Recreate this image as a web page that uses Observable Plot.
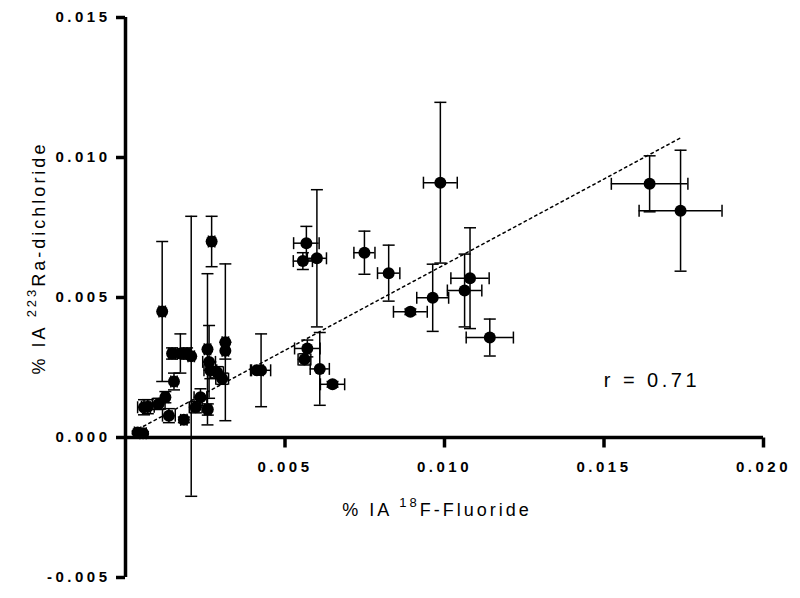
<!DOCTYPE html>
<html><head><meta charset="utf-8">
<script src="https://cdn.jsdelivr.net/npm/d3@7"></script>
<script src="https://cdn.jsdelivr.net/npm/@observablehq/plot@0.6"></script>
<style>
body{margin:0;background:#fff}
svg{font-family:"Liberation Sans",Arial,sans-serif}
</style>
</head><body><div id="chart"></div>
<script>
// % IA 18F-Fluoride (x) vs % IA 223Ra-dichloride (y), with SD error bars
const xVals = [0.00038,0.00055,0.00058,0.00070,0.00104,0.00125,0.00136,0.00152,0.00115,0.00146,0.00172,0.00193,0.00206,0.00183,0.00220,0.00235,0.00258,0.00270,0.00257,0.00262,0.00266,0.00287,0.00303,0.00313,0.00313,0.00412,0.00425,0.00567,0.00556,0.00600,0.00749,0.00570,0.00561,0.00609,0.00649,0.00987,0.00825,0.00893,0.00963,0.01080,0.01063,0.01142,0.01643,0.01740];
const yVals = [0.00018,0.00015,0.00108,0.00110,0.00120,0.00144,0.00078,0.00200,0.00450,0.00300,0.00300,0.00300,0.00290,0.00063,0.00108,0.00144,0.00100,0.00700,0.00315,0.00270,0.00240,0.00233,0.00210,0.00340,0.00310,0.00240,0.00240,0.00694,0.00630,0.00640,0.00660,0.00318,0.00279,0.00245,0.00190,0.00910,0.00587,0.00449,0.00499,0.00569,0.00525,0.00357,0.00906,0.00810];
const xErr = [0.0001,0.0001,0.0002,0.0002,0.0002,0.0001,0.0002,0.0001,0.0001,0.0001,0.0001,0.0001,0.0001,0.0001,0.0002,0.0002,0.0001,0.0001,0.0001,0.0002,0.0002,0.0002,0.0002,0.0001,0.0001,0.0002,0.0003,0.0004,0.0003,0.0003,0.00033,0.0004,0.0002,0.0003,0.00038,0.00053,0.00035,0.00053,0.0005,0.0006,0.00054,0.00074,0.0012,0.0013];
const yErr = [0.00005,0.00005,0.00027,0.00025,0.0002,0.0002,0.00025,0.0003,0.0025,0.0002,0.0007,0.0002,0.0050,0.0001,0.0002,0.0003,0.0002,0.0009,0.0027,0.0013,0.0003,0.0002,0.0002,0.0028,0.0003,0.0001,0.0013,0.0006,0.0003,0.00245,0.00077,0.0003,0.0002,0.0013,0.0001,0.00287,0.0010,0.0001,0.0012,0.0018,0.0013,0.00066,0.0010,0.00216];
const xTicks = [0.005, 0.010, 0.015, 0.020];
const yTicks = [-0.005, 0.000, 0.005, 0.010, 0.015];
const fitX = [0.0004, 0.0174];
const fitY = [0.0003, 0.0107];
const rLabel = ["r = 0.71"];
const rX = 0.01650, rY = 0.00204;

const data = xVals.map((x, i) => ({x, y: yVals[i], xe: xErr[i], ye: yErr[i]}));
const fit = fitX.map((x, i) => ({x, y: fitY[i]}));
const hcap = {draw(ctx, size) {const w = Math.sqrt(size / Math.PI); ctx.moveTo(-w, 0); ctx.lineTo(w, 0);}};
const vcap = {draw(ctx, size) {const w = Math.sqrt(size / Math.PI); ctx.moveTo(0, -w); ctx.lineTo(0, w);}};
const f3 = d3.format(".3f");
const fmt = d => f3(d).replace("\u2212", "-");

const plot = Plot.plot({
  width: 800, height: 598,
  marginLeft: 125, marginRight: 37, marginTop: 17, marginBottom: 21,
  x: {domain: [0, 0.02], axis: null},
  y: {domain: [-0.005, 0.015], axis: null},
  marks: [
    Plot.line(fit, {x: "x", y: "y", stroke: "black", strokeWidth: 1.5, strokeDasharray: "2.5,3.5"}),
    Plot.ruleX(data, {x: "x", y1: d => d.y - d.ye, y2: d => d.y + d.ye, stroke: "black", strokeWidth: 1.5}),
    Plot.ruleY(data, {y: "y", x1: d => d.x - d.xe, x2: d => d.x + d.xe, stroke: "black", strokeWidth: 1.5}),
    Plot.dot(data, {x: "x", y: d => d.y + d.ye, symbol: hcap, r: 6, stroke: "black", strokeWidth: 1.5}),
    Plot.dot(data, {x: "x", y: d => d.y - d.ye, symbol: hcap, r: 6, stroke: "black", strokeWidth: 1.5}),
    Plot.dot(data, {x: d => d.x - d.xe, y: "y", symbol: vcap, r: 6, stroke: "black", strokeWidth: 1.5}),
    Plot.dot(data, {x: d => d.x + d.xe, y: "y", symbol: vcap, r: 6, stroke: "black", strokeWidth: 1.5}),
    Plot.dot(data, {x: "x", y: "y", r: 6, fill: "black", stroke: "none"}),
    // axes
    Plot.ruleX([0], {y1: -0.005, y2: 0.015, stroke: "black", strokeWidth: 3.5}),
    Plot.ruleY([0], {x1: 0, x2: 0.02, stroke: "black", strokeWidth: 3.5}),
    Plot.axisY({ticks: yTicks, label: null, tickSize: 9, tickPadding: 6, tickFormat: fmt, fontSize: 15, fontWeight: "bold", strokeWidth: 3.5, stroke: "black", fill: "black"}),
    Plot.dot(xTicks, {x: d => d, y: 0, symbol: vcap, r: 5, dy: 5, stroke: "black", strokeWidth: 3.5}),
    Plot.text(xTicks, {x: d => d, y: 0, dy: 30, text: fmt, fontSize: 15, fontWeight: "bold", fill: "black"}),
    Plot.text(rLabel, {x: rX, y: rY, text: d => d, fontSize: 20, fill: "black"})
  ]
});

const svg = d3.select(plot);
svg.selectAll("text").attr("letter-spacing", "3.5");

// x axis title
const xt = svg.append("text").attr("x", 437).attr("y", 516).attr("text-anchor", "middle")
  .attr("font-size", 18).attr("letter-spacing", "3").attr("fill", "black");
xt.append("tspan").text("% IA ");
xt.append("tspan").attr("font-size", 13).attr("dy", -9).text("18");
xt.append("tspan").attr("dy", 9).text("F-Fluoride");

// y axis title
const yt = svg.append("text").attr("transform", "translate(45,258) rotate(-90)").attr("text-anchor", "middle")
  .attr("font-size", 18).attr("letter-spacing", "3").attr("fill", "black");
yt.append("tspan").text("% IA ");
yt.append("tspan").attr("font-size", 13).attr("dy", -9).text("223");
yt.append("tspan").attr("dy", 9).text("Ra-dichloride");

document.getElementById("chart").appendChild(plot);
</script>
</body></html>
